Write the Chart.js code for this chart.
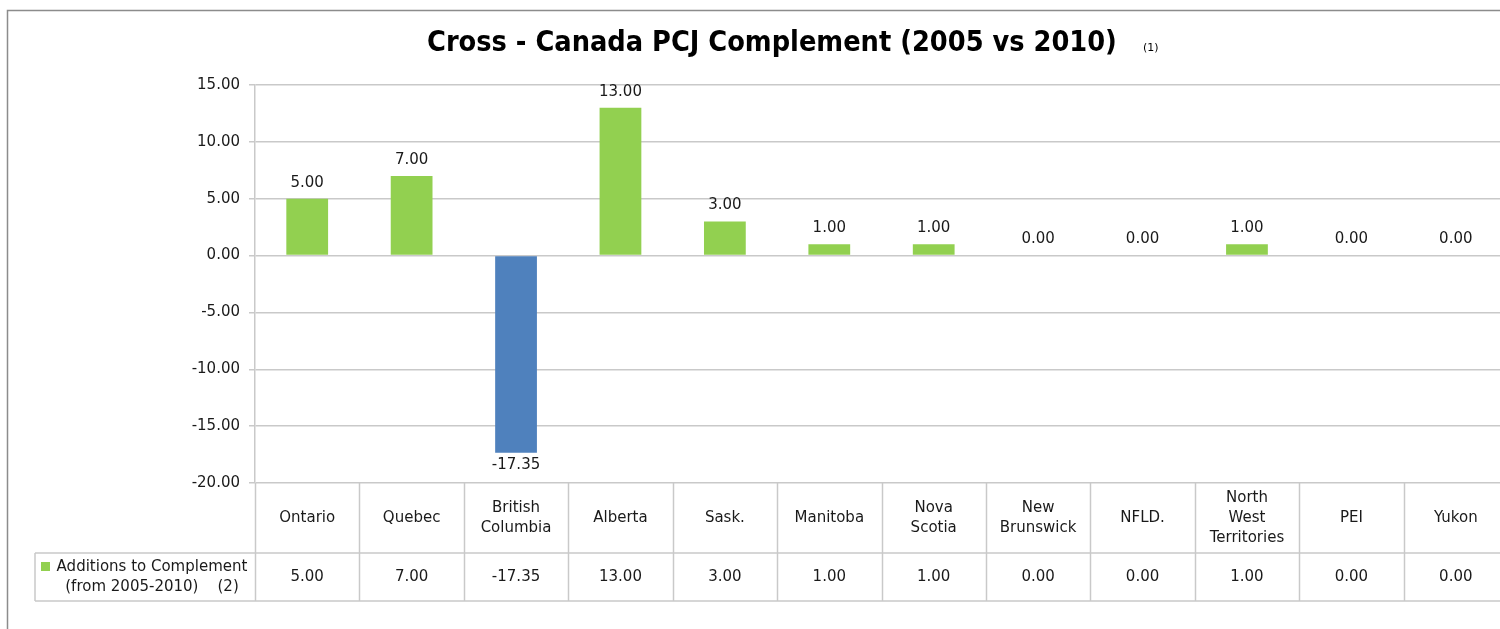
<!DOCTYPE html>
<html>
<head>
<meta charset="utf-8">
<script src="https://cdn.jsdelivr.net/npm/chart.js@4/dist/chart.umd.min.js"></script>
<style>
html,body{margin:0;padding:0;background:#fff;overflow:hidden;width:1500px;height:629px;}
canvas{display:block;}
</style>
</head>
<body>
<canvas id="c" width="1520" height="629"></canvas>
<script>
const titleText = 'Cross - Canada PCJ Complement (2005 vs 2010)';
const titleNote = '(1)';
const categories = ['Ontario','Quebec','British Columbia','Alberta','Sask.','Manitoba','Nova Scotia','New Brunswick','NFLD.','North West Territories','PEI','Yukon'];
const categoryLines = [['Ontario'],['Quebec'],['British','Columbia'],['Alberta'],['Sask.'],['Manitoba'],['Nova','Scotia'],['New','Brunswick'],['NFLD.'],['North','West','Territories'],['PEI'],['Yukon']];
const values = [5.00, 7.00, -17.35, 13.00, 3.00, 1.00, 1.00, 0.00, 0.00, 1.00, 0.00, 0.00];
const seriesName = ['Additions to Complement', '(from 2005-2010)    (2)'];
const yTicks = [-20, -15, -10, -5, 0, 5, 10, 15];

const GREEN = '#92D050';
const BLUE = '#4F81BD';
const FONT = '"DejaVu Sans", sans-serif';
const TFONT = '"DejaVu Sans Condensed", "DejaVu Sans", sans-serif';
const GRID = '#c9c9c9';

const overlay = {
  id: 'overlay',
  afterDraw(chart) {
    const ctx = chart.ctx;
    const area = chart.chartArea;
    const xs = chart.scales.x;
    const meta = chart.getDatasetMeta(0);
    ctx.save();
    // outer frame
    ctx.strokeStyle = '#8c8c8c';
    ctx.lineWidth = 1.5;
    ctx.beginPath();
    ctx.moveTo(7.5, 629); ctx.lineTo(7.5, 10.5); ctx.lineTo(1520, 10.5);
    ctx.stroke();
    // title, fitted to the reference width
    ctx.fillStyle = '#000';
    ctx.textAlign = 'left';
    ctx.textBaseline = 'middle';
    let fs = 28;
    ctx.font = 'bold ' + fs + 'px ' + TFONT;
    let tw = ctx.measureText(titleText).width;
    fs = Math.min(30, fs * 690 / tw);
    ctx.font = 'bold ' + fs.toFixed(1) + 'px ' + TFONT;
    tw = ctx.measureText(titleText).width;
    ctx.fillText(titleText, 427, 44);
    ctx.font = '11px ' + FONT;
    ctx.fillText(titleNote, 1143, 48);
    // data labels
    ctx.font = '15px ' + FONT;
    ctx.fillStyle = '#1a1a1a';
    ctx.textAlign = 'center';
    meta.data.forEach((bar, i) => {
      const v = values[i];
      const txt = v.toFixed(2);
      if (v < 0) {
        ctx.fillText(txt, bar.x, bar.y + 12);
      } else {
        ctx.fillText(txt, bar.x, bar.y - 16);
      }
    });
    // data table
    const top = area.bottom, mid = 553, bot = 601, legLeft = 35;
    ctx.strokeStyle = GRID;
    ctx.lineWidth = 1.5;
    ctx.beginPath();
    ctx.moveTo(legLeft, mid); ctx.lineTo(1520, mid);
    ctx.moveTo(legLeft, bot); ctx.lineTo(1520, bot);
    ctx.moveTo(legLeft, mid); ctx.lineTo(legLeft, bot);
    for (let i = 0; i <= categories.length; i++) {
      const x = Math.round(area.left + (area.right - area.left) * i / categories.length) + 0.5;
      ctx.moveTo(x, top); ctx.lineTo(x, bot);
    }
    ctx.stroke();
    ctx.fillStyle = '#1a1a1a';
    ctx.font = '15px ' + FONT;
    categoryLines.forEach((lines, i) => {
      const cx = xs.getPixelForValue(i);
      const cy = 518;
      const lh = 20;
      lines.forEach((ln, j) => {
        ctx.fillText(ln, cx, cy + (j - (lines.length - 1) / 2) * lh);
      });
      ctx.fillText(values[i].toFixed(2), cx, 577);
    });
    // legend cell
    ctx.fillStyle = GREEN;
    ctx.fillRect(41, 562, 9, 9);
    ctx.fillStyle = '#1a1a1a';
    ctx.fillText(seriesName[0], 152, 567);
    ctx.fillText(seriesName[1], 152, 587);
    ctx.restore();
  }
};

new Chart(document.getElementById('c'), {
  type: 'bar',
  data: {
    labels: categories,
    datasets: [{
      label: seriesName.join(' '),
      data: values,
      backgroundColor: values.map(v => v < 0 ? BLUE : GREEN),
      borderWidth: 0,
      barPercentage: 0.4,
      categoryPercentage: 1.0
    }]
  },
  options: {
    responsive: false,
    animation: false,
    devicePixelRatio: 1,
    layout: { padding: { left: 0, right: 12, top: 85, bottom: 146 } },
    plugins: { legend: { display: false }, title: { display: false }, tooltip: { enabled: false } },
    scales: {
      x: { display: false, offset: true, grid: { display: false } },
      y: {
        min: -20, max: 15,
        afterFit(scale) { scale.width = 255; },
        afterBuildTicks(scale) { scale.ticks = yTicks.map(v => ({ value: v })); },
        border: { display: true, color: GRID, width: 1.5 },
        grid: { color: GRID, lineWidth: 1.5, tickLength: 6, drawTicks: true },
        ticks: {
          padding: 9,
          color: '#1a1a1a',
          font: { family: FONT, size: 15 },
          callback: v => Number(v).toFixed(2)
        }
      }
    }
  },
  plugins: [overlay]
});
</script>
</body>
</html>
